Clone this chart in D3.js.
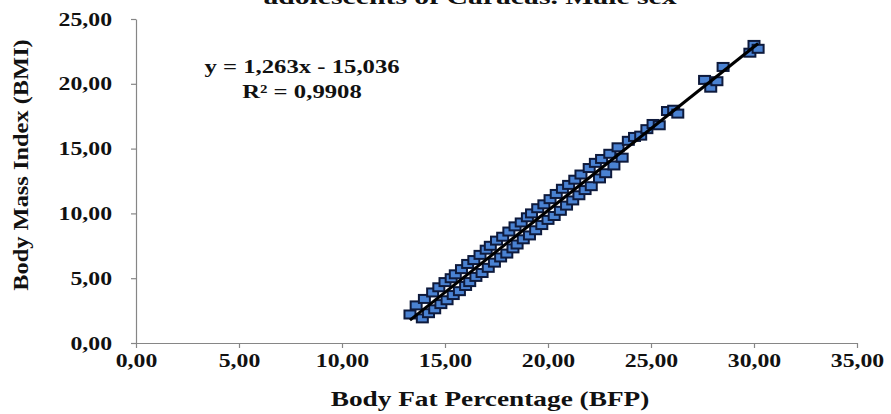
<!DOCTYPE html>
<html>
<head>
<meta charset="utf-8">
<script src="https://cdn.jsdelivr.net/npm/d3@7"></script>
<style>
  body { margin: 0; background: #fff; }
</style>
</head>
<body>
<div id="chart"></div>
<script>
// values
var bfp = [13.3, 13.6, 13.9, 14.0, 14.2, 14.4, 14.5, 14.7, 14.8, 15.0,
           15.1, 15.3, 15.4, 15.5, 15.7, 15.8, 16.0, 16.1, 16.2, 16.4,
           16.5, 16.7, 16.8, 17.0, 17.1, 17.2, 17.4, 17.5, 17.7, 17.8,
           18.0, 18.1, 18.3, 18.4, 18.5, 18.7, 18.8, 19.0, 19.1, 19.2,
           19.4, 19.5, 19.7, 19.8, 20.0, 20.1, 20.3, 20.4, 20.6, 20.7,
           20.9, 21.0, 21.2, 21.3, 21.5, 21.6, 21.8, 22.0, 22.1, 22.3,
           22.5, 22.6, 22.8, 23.0, 23.2, 23.4, 23.6, 23.9, 24.2, 24.5,
           24.8, 25.1, 25.4, 25.8, 26.1, 26.3, 27.6, 27.9, 28.2, 28.5,
           29.8, 30.0, 30.2];
var bmi = [2.2, 2.9, 1.9, 3.4, 2.3, 3.9, 2.6, 4.3, 3.0, 4.7,
           3.3, 5.0, 3.7, 5.3, 4.0, 5.7, 4.4, 6.1, 4.7, 6.4,
           5.1, 6.8, 5.4, 7.2, 5.8, 7.5, 6.2, 7.9, 6.6, 8.2,
           6.9, 8.6, 7.3, 9.0, 7.6, 9.3, 8.0, 9.7, 8.3, 10.0,
           8.7, 10.4, 9.1, 10.7, 9.5, 11.1, 9.8, 11.5, 10.2, 11.9,
           10.6, 12.2, 11.0, 12.6, 11.4, 13.0, 11.8, 13.5, 12.1, 13.9,
           12.7, 14.2, 13.1, 14.6, 13.7, 15.1, 14.3, 15.6, 15.9, 16.0,
           16.5, 16.9, 16.8, 17.9, 18.0, 17.7, 20.3, 19.7, 20.2, 21.3,
           22.4, 23.0, 22.7];
var xTicks = [0, 5, 10, 15, 20, 25, 30, 35];
var yTicks = [0, 5, 10, 15, 20, 25];
var slope = 1.263, intercept = -15.036;
var eqLines = ['y = 1,263x - 15,036', 'R\u00b2 = 0,9908'];
var title = 'adolescents of Caracas. Male sex';
var xTitle = 'Body Fat Percentage (BFP)';
var yTitle = 'Body Mass Index (BMI)';

var W = 891, H = 414,
    font = '"Liberation Serif", "Times New Roman", serif',
    axisColor = '#868686',
    wide = 1.25;

var svg = d3.select('#chart').append('svg')
  .attr('width', W)
  .attr('height', H);

var x = d3.scaleLinear().domain([0, 35]).range([136, 857]);
var y = d3.scaleLinear().domain([0, 25]).range([343, 19]);

var fmt = function(d) { return d3.format('.2f')(d).replace('.', ','); };

// the source picture has wide lettering, stretch the text to match
function stretch(sel, k) {
  sel.each(function() {
    var w = this.getComputedTextLength();
    d3.select(this)
      .attr('textLength', w * k)
      .attr('lengthAdjust', 'spacingAndGlyphs');
  });
}

// axes
var yAxis = svg.append('g')
  .attr('transform', 'translate(136,0)')
  .call(d3.axisLeft(y).tickValues(yTicks).tickFormat(fmt)
    .tickSize(5).tickSizeOuter(0).tickPadding(19));

var xAxis = svg.append('g')
  .attr('transform', 'translate(0,343)')
  .call(d3.axisBottom(x).tickValues(xTicks).tickFormat(fmt)
    .tickSize(5).tickSizeOuter(0).tickPadding(6));

[yAxis, xAxis].forEach(function(g) {
  g.select('.domain').attr('stroke', axisColor).attr('stroke-width', 1.2);
  g.selectAll('.tick line').attr('stroke', axisColor).attr('stroke-width', 1.2);
  g.selectAll('.tick text')
    .attr('fill', '#111')
    .style('font-family', font)
    .style('font-weight', 'bold')
    .style('font-size', '19px')
    .call(stretch, wide);
});

// points
svg.append('g')
  .selectAll('rect')
  .data(bfp)
  .enter().append('rect')
    .attr('x', function(d) { return x(d) - 5.5; })
    .attr('y', function(d, i) { return y(bmi[i]) - 4; })
    .attr('width', 11)
    .attr('height', 8)
    .attr('fill', '#4a82d2')
    .attr('stroke', '#0e1a3c')
    .attr('stroke-width', 2);

// linear trendline
var x0 = d3.min(bfp), x1 = d3.max(bfp);
svg.append('line')
  .attr('x1', x(x0))
  .attr('y1', y(slope * x0 + intercept))
  .attr('x2', x(x1))
  .attr('y2', y(slope * x1 + intercept))
  .attr('stroke', '#000')
  .attr('stroke-width', 3);

// texts
function label(txt, px, py, size, k, rot) {
  var t = svg.append('text')
    .attr('transform', 'translate(' + px + ',' + py + ')' + (rot ? ' rotate(' + rot + ')' : ''))
    .attr('text-anchor', 'middle')
    .attr('fill', '#111')
    .style('font-family', font)
    .style('font-weight', 'bold')
    .style('font-size', size + 'px')
    .text(txt);
  t.call(stretch, k);
  return t;
}

label(title, 470, 4, 22, 1.35);
label(eqLines[0], 302, 73, 19, 1.3);
label(eqLines[1], 302, 98, 19, 1.3);
label(xTitle, 490, 406, 21, 1.3);
label(yTitle, 28, 165, 20, 1.22, -90);
</script>
</body>
</html>
